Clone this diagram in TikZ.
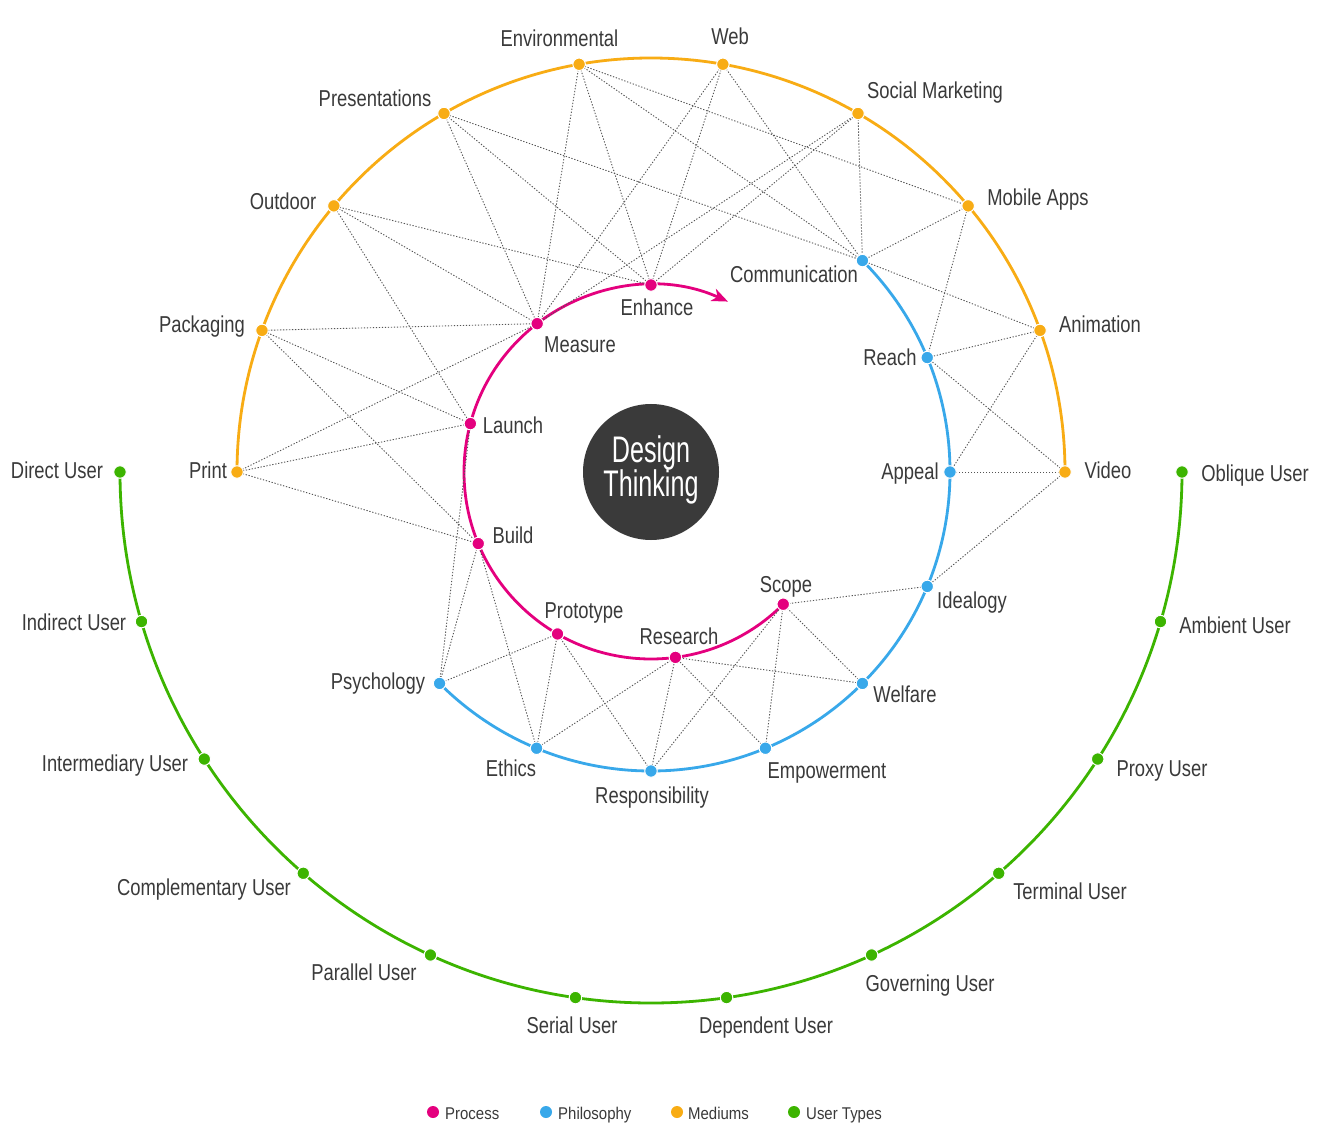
\documentclass[tikz,border=0pt]{standalone}
\usepackage{fontspec}
\newfontfamily\lblfont{Liberation Sans}[FakeStretch=0.80]
\newfontfamily\ctrfont{Liberation Sans}[FakeStretch=0.68]
\newfontfamily\legfont{Liberation Sans}[FakeStretch=0.88]
\usetikzlibrary{arrows.meta}
\definecolor{cpink}{RGB}{228,0,126}
\definecolor{cblue}{RGB}{56,168,234}
\definecolor{corange}{RGB}{248,172,20}
\definecolor{cgreen}{RGB}{60,180,0}
\definecolor{ctext}{RGB}{58,58,58}
\definecolor{cdark}{RGB}{58,58,58}
\definecolor{cline}{RGB}{85,85,85}
\pgfdeclarelayer{bg}
\pgfdeclarelayer{paper}
\pgfsetlayers{paper,bg,main}
\tikzset{
  dotbase/.style={circle, draw=white, line width=1pt, inner sep=0pt, minimum size=12.5pt},
  pdot/.style={dotbase, fill=cpink},
  bdot/.style={dotbase, fill=cblue},
  odot/.style={dotbase, fill=corange},
  gdot/.style={dotbase, fill=cgreen},
  legdot/.style={circle, inner sep=0pt, minimum size=12pt},
  arcline/.style={line width=2.8pt},
  conn/.style={draw=cline, line width=0.9pt, dash pattern=on 1.3pt off 1.7pt},
  lbl/.style={font=\lblfont\fontsize{23}{27}\selectfont, text=ctext, inner sep=0pt, anchor=base},
  ctr/.style={font=\ctrfont\fontsize{37}{40}\selectfont, text=white, inner sep=0pt, anchor=base},
  leg/.style={font=\legfont\fontsize{17}{20}\selectfont, text=ctext, inner sep=0pt, anchor=base west},
}
\begin{document}
\begin{tikzpicture}[x=1pt,y=-1pt]
\useasboundingbox (0,0) rectangle (1320,1147);
\begin{pgfonlayer}{paper}
\fill[white] (0,0) rectangle (1320,1147);
\end{pgfonlayer}

\begin{scope}[shift={(651,472)}]
% process (pink)
\node[pdot] (enhance)   at (-90:187) {};
\node[pdot] (measure)   at (-127.5:187) {};
\node[pdot] (launch)    at (-165:187) {};
\node[pdot] (build)     at (-202.5:187) {};
\node[pdot] (prototype) at (-240:187) {};
\node[pdot] (research)  at (-277.5:187) {};
\node[pdot] (scope)     at (-315:187) {};
% philosophy (blue)
\node[bdot] (comm)    at (-45:299) {};
\node[bdot] (reach)   at (-22.5:299) {};
\node[bdot] (appeal)  at (0:299) {};
\node[bdot] (ideal)   at (22.5:299) {};
\node[bdot] (welfare) at (45:299) {};
\node[bdot] (empower) at (67.5:299) {};
\node[bdot] (resp)    at (90:299) {};
\node[bdot] (ethics)  at (112.5:299) {};
\node[bdot] (psych)   at (135:299) {};
% mediums (orange)
\node[odot] (video)   at (0:414) {};
\node[odot] (anim)    at (-20:414) {};
\node[odot] (mobile)  at (-40:414) {};
\node[odot] (social)  at (-60:414) {};
\node[odot] (web)     at (-80:414) {};
\node[odot] (env)     at (-100:414) {};
\node[odot] (pres)    at (-120:414) {};
\node[odot] (outdoor) at (-140:414) {};
\node[odot] (pack)    at (-160:414) {};
\node[odot] (print)   at (-180:414) {};
% user types (green)
\node[gdot] (u1)  at (180:531) {};
\node[gdot] (u2)  at (163.636:531) {};
\node[gdot] (u3)  at (147.273:531) {};
\node[gdot] (u4)  at (130.909:531) {};
\node[gdot] (u5)  at (114.545:531) {};
\node[gdot] (u6)  at (98.182:531) {};
\node[gdot] (u7)  at (81.818:531) {};
\node[gdot] (u8)  at (65.455:531) {};
\node[gdot] (u9)  at (49.091:531) {};
\node[gdot] (u10) at (32.727:531) {};
\node[gdot] (u11) at (16.364:531) {};
\node[gdot] (u12) at (0:531) {};

\begin{pgfonlayer}{bg}
\draw[arcline, cgreen] (180:531) arc[start angle=180, end angle=0, radius=531];
\draw[arcline, corange] (0:414) arc[start angle=0, end angle=-180, radius=414];
\draw[arcline, cblue] (-45:299) arc[start angle=-45, end angle=135, radius=299];
\draw[arcline, cpink, -{Stealth[length=16pt, width=13pt, inset=4.5pt]}] (-315:187) arc[start angle=-315, end angle=-65.7, radius=187];
\end{pgfonlayer}
\end{scope}

% dotted connections
\begin{pgfonlayer}{bg}
\foreach \a/\b in {env/measure, env/enhance, env/comm, env/mobile,
  web/measure, web/enhance, web/comm,
  social/measure, social/enhance, social/comm,
  pres/measure, pres/enhance, pres/comm,
  outdoor/enhance, outdoor/measure, outdoor/launch,
  pack/measure, pack/launch, pack/build,
  print/measure, print/launch, print/build,
  mobile/comm, mobile/reach,
  anim/comm, anim/reach, anim/appeal,
  video/reach, video/appeal, video/ideal,
  psych/launch, psych/build, psych/prototype,
  ethics/build, ethics/prototype, ethics/research,
  resp/prototype, resp/research, resp/scope,
  empower/research, empower/scope,
  welfare/research, welfare/scope,
  ideal/scope}
  \draw[conn] (\a.center) -- (\b.center);
\end{pgfonlayer}

% center
\node[circle, fill=cdark, minimum size=136pt, inner sep=0pt] (core) at (651,472) {};
\node[ctr] (coreA) at (651,462) {Design};
\node[ctr] (coreB) at (651,496) {Thinking};

% labels: mediums
\node[lbl] (envL)     at (559.5,47) {Environmental};
\node[lbl] (webL)     at (730,45) {Web};
\node[lbl] (socialL)  at (935,99) {Social Marketing};
\node[lbl] (mobileL)  at (1038,206) {Mobile Apps};
\node[lbl] (animL)    at (1100,333) {Animation};
\node[lbl] (videoL)   at (1108,478) {Video};
\node[lbl] (presL)    at (375,107) {Presentations};
\node[lbl] (outdoorL) at (283,210) {Outdoor};
\node[lbl] (packL)    at (202,333) {Packaging};
\node[lbl] (printL)   at (208,478) {Print};
% labels: philosophy
\node[lbl] (commL)    at (794,283) {Communication};
\node[lbl] (reachL)   at (890,366) {Reach};
\node[lbl] (appealL)  at (910,479) {Appeal};
\node[lbl] (idealL)   at (972,608) {Idealogy};
\node[lbl] (welfareL) at (905,702) {Welfare};
\node[lbl] (empowerL) at (827,778) {Empowerment};
\node[lbl] (respL)    at (652,803) {Responsibility};
\node[lbl] (ethicsL)  at (511,776) {Ethics};
\node[lbl] (psychL)   at (378,689) {Psychology};
% labels: process
\node[lbl] (enhanceL) at (657,316) {Enhance};
\node[lbl] (measureL) at (580,353) {Measure};
\node[lbl] (launchL)  at (513,434) {Launch};
\node[lbl] (buildL)   at (513,543) {Build};
\node[lbl] (protoL)   at (584,618) {Prototype};
\node[lbl] (researchL) at (679,644) {Research};
\node[lbl] (scopeL)   at (786,592) {Scope};
% labels: user types
\node[lbl] (u1L)  at (57,478) {Direct User};
\node[lbl] (u2L)  at (74,630) {Indirect User};
\node[lbl] (u3L)  at (115,771) {Intermediary User};
\node[lbl] (u4L)  at (204,895) {Complementary User};
\node[lbl] (u5L)  at (364,980) {Parallel User};
\node[lbl] (u6L)  at (572,1033) {Serial User};
\node[lbl] (u7L)  at (766,1033) {Dependent User};
\node[lbl] (u8L)  at (930,991) {Governing User};
\node[lbl] (u9L)  at (1070,899) {Terminal User};
\node[lbl] (u10L) at (1162,776) {Proxy User};
\node[lbl] (u11L) at (1235,633) {Ambient User};
\node[lbl] (u12L) at (1255,481) {Oblique User};

% legend
\node[legdot, fill=cpink]   (lg1) at (433,1112) {};
\node[leg] (lg1t) at (445,1119) {Process};
\node[legdot, fill=cblue]   (lg2) at (546,1112) {};
\node[leg] (lg2t) at (558,1119) {Philosophy};
\node[legdot, fill=corange] (lg3) at (677,1112) {};
\node[leg] (lg3t) at (688,1119) {Mediums};
\node[legdot, fill=cgreen]  (lg4) at (794,1112) {};
\node[leg] (lg4t) at (806,1119) {User Types};
\end{tikzpicture}
\end{document}
